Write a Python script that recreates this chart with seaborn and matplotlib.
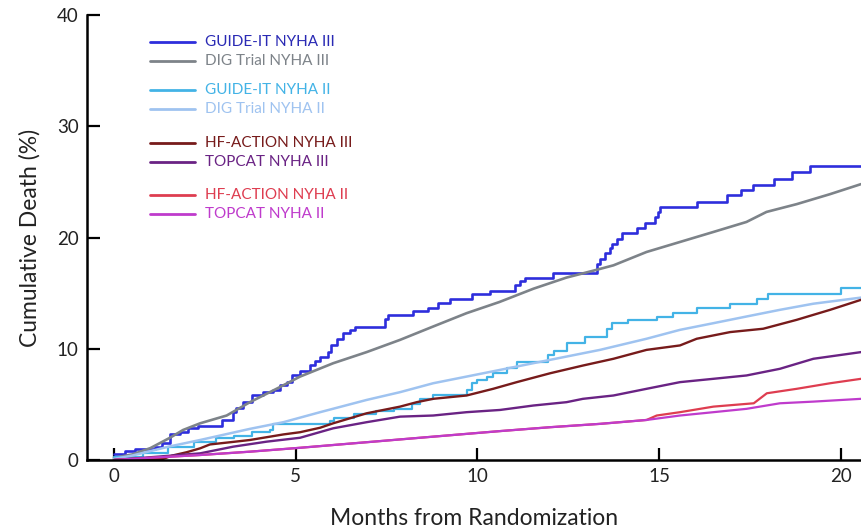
import numpy as np
import pandas as pd
import matplotlib
matplotlib.use("Agg")
import matplotlib.pyplot as plt
import seaborn as sns

# ---- series (months from randomization, cumulative death %) ----
GUIDE_IT_III_MONTHS = [0, 0.3, 0.58, 1.13, 1.31, 1.54, 1.82, 2.04, 2.31, 2.96, 3.28, 3.37, 3.55, 3.79, 4.1,
                       4.38, 4.57, 4.75, 4.89, 5.12, 5.4, 5.53, 5.67, 5.9, 5.96, 6.13, 6.3, 6.5, 6.63, 7.45,
                       7.54, 8.23, 8.64, 8.9, 9.24, 9.84, 10.34, 11.03, 11.17, 11.3, 12.08, 13.28, 13.37, 13.5, 13.65,
                       13.7, 13.83, 13.97, 14.38, 14.6, 14.88, 14.97, 15.02, 16.05, 16.86, 17.24, 17.57, 18.16, 18.65, 19.16,
                       20.55]
GUIDE_IT_III_DEATH = [0.5, 0.8, 1.0, 1.2, 1.55, 2.3, 2.55, 2.9, 3.1, 3.6, 4.3, 4.7, 5.2, 5.8, 6.1,
                      6.3, 6.7, 7.0, 7.6, 8.0, 8.5, 8.9, 9.3, 9.7, 10.3, 10.9, 11.4, 11.7, 12.0, 12.7,
                      13.0, 13.4, 13.7, 14.1, 14.5, 14.9, 15.2, 15.7, 16.1, 16.4, 16.8, 17.6, 18.1, 18.6, 19.1,
                      19.4, 19.9, 20.4, 20.9, 21.3, 21.8, 22.3, 22.7, 23.2, 23.8, 24.3, 24.75, 25.3, 25.9, 26.4,
                      26.4]

DIG_III_MONTHS = [0, 0.5, 1.0, 1.54, 1.9, 2.37, 3.1, 3.74, 4.47, 5.12, 6.03, 6.95, 7.87, 8.78, 9.7,
                  10.6, 11.54, 12.45, 13.28, 13.74, 14.65, 15.57, 16.49, 17.4, 17.95, 18.78, 19.7, 20.55]
DIG_III_DEATH = [0.2, 0.5, 1.07, 2.0, 2.7, 3.3, 4.0, 5.2, 6.4, 7.5, 8.7, 9.7, 10.8, 12.0, 13.2,
                 14.2, 15.4, 16.4, 17.1, 17.5, 18.7, 19.6, 20.5, 21.4, 22.3, 23.0, 23.9, 24.8]

GUIDE_IT_II_MONTHS = [0, 0.8, 1.5, 2.2, 2.8, 3.3, 3.8, 4.29, 4.38, 5.94, 6.04, 6.6, 7.2, 7.7, 8.2,
                      8.42, 8.78, 9.7, 9.84, 9.98, 10.25, 10.43, 10.8, 11.08, 11.95, 12.1, 12.45, 12.96, 13.55, 13.69,
                      14.15, 14.93, 15.39, 16.03, 16.95, 17.68, 18.0, 20.0, 20.55]
GUIDE_IT_II_DEATH = [0.3, 0.6, 1.2, 1.6, 2.0, 2.2, 2.5, 2.7, 3.2, 3.5, 3.8, 4.1, 4.4, 4.6, 5.0,
                     5.5, 5.8, 6.3, 6.9, 7.2, 7.5, 7.8, 8.3, 8.8, 9.4, 9.8, 10.5, 11.1, 11.8, 12.3,
                     12.6, 12.9, 13.2, 13.7, 14.05, 14.5, 14.95, 15.5, 15.5]

DIG_II_MONTHS = [0, 0.5, 1.0, 1.5, 2.37, 3.74, 4.66, 5.67, 6.95, 7.87, 8.78, 9.7, 10.62, 11.53, 12.45,
                 13.37, 14.65, 15.57, 16.49, 17.4, 18.32, 19.24, 20.55]
DIG_II_DEATH = [0.1, 0.4, 0.8, 1.2, 1.8, 2.8, 3.4, 4.3, 5.4, 6.1, 6.9, 7.5, 8.1, 8.7, 9.3,
                9.9, 10.9, 11.7, 12.3, 12.9, 13.5, 14.05, 14.6]

HF_ACTION_III_MONTHS = [0, 0.8, 1.35, 1.6, 2.0, 2.37, 2.64, 3.2, 3.74, 4.66, 5.12, 5.67, 6.03, 6.95, 7.87,
                        8.33, 8.78, 9.7, 10.43, 11.08, 12.0, 12.91, 13.74, 14.65, 15.57, 16.03, 16.95, 17.86, 18.78, 19.7,
                        20.55]
HF_ACTION_III_DEATH = [0.0, 0.05, 0.1, 0.4, 0.7, 1.05, 1.4, 1.6, 1.8, 2.3, 2.5, 2.9, 3.3, 4.2, 4.8,
                       5.2, 5.5, 5.8, 6.4, 7.0, 7.8, 8.5, 9.1, 9.9, 10.3, 10.9, 11.5, 11.8, 12.6, 13.5,
                       14.4]

TOPCAT_III_MONTHS = [0, 1.0, 2.37, 3.28, 4.2, 5.12, 6.03, 6.95, 7.87, 8.78, 9.7, 10.62, 11.54, 12.45, 12.9,
                     13.74, 14.65, 15.57, 16.49, 17.4, 18.32, 19.24, 20.55]
TOPCAT_III_DEATH = [0.0, 0.25, 0.6, 1.2, 1.65, 2.0, 2.85, 3.4, 3.9, 4.0, 4.3, 4.5, 4.9, 5.2, 5.5,
                    5.8, 6.4, 7.0, 7.3, 7.6, 8.2, 9.1, 9.7]

HF_ACTION_II_MONTHS = [0, 1.0, 2.37, 3.74, 5.12, 6.95, 8.78, 10.62, 12.0, 13.37, 14.65, 14.93, 15.57, 16.49, 17.6,
                       17.96, 18.78, 19.7, 20.55]
HF_ACTION_II_DEATH = [0.0, 0.2, 0.45, 0.75, 1.1, 1.6, 2.1, 2.6, 2.95, 3.25, 3.6, 4.0, 4.3, 4.8, 5.1,
                      6.0, 6.4, 6.9, 7.3]

TOPCAT_II_MONTHS = [0, 1.0, 2.37, 3.74, 5.12, 6.95, 8.78, 10.62, 12.0, 13.37, 14.65, 15.57, 16.49, 17.4, 18.32,
                    19.24, 20.55]
TOPCAT_II_DEATH = [0.0, 0.2, 0.45, 0.75, 1.1, 1.6, 2.1, 2.6, 2.95, 3.25, 3.6, 4.0, 4.3, 4.6, 5.1,
                   5.25, 5.5]

X_TICKS = [0, 5, 10, 15, 20]
Y_TICKS = [0, 10, 20, 30, 40]

# label, months, values, colour, stepped (KM step) or dense curve, line width
SERIES = [
    ("GUIDE-IT NYHA III", GUIDE_IT_III_MONTHS, GUIDE_IT_III_DEATH, "#2e2edc", True, 1.9),
    ("DIG Trial NYHA III", DIG_III_MONTHS, DIG_III_DEATH, "#7d8389", False, 1.9),
    ("GUIDE-IT NYHA II", GUIDE_IT_II_MONTHS, GUIDE_IT_II_DEATH, "#43b3e6", True, 1.6),
    ("DIG Trial NYHA II", DIG_II_MONTHS, DIG_II_DEATH, "#9fc3f0", False, 1.8),
    ("HF-ACTION NYHA III", HF_ACTION_III_MONTHS, HF_ACTION_III_DEATH, "#771b1b", False, 1.7),
    ("TOPCAT NYHA III", TOPCAT_III_MONTHS, TOPCAT_III_DEATH, "#6a2384", False, 1.7),
    ("HF-ACTION NYHA II", HF_ACTION_II_MONTHS, HF_ACTION_II_DEATH, "#de3d50", False, 1.6),
    ("TOPCAT NYHA II", TOPCAT_II_MONTHS, TOPCAT_II_DEATH, "#bf3bcc", False, 1.6),
]
LEGEND_TEXT_COLORS = ["#2a2ab4", "#7d8389", "#43b3e6", "#9fc3f0",
                      "#771b1b", "#6a2384", "#de3d50", "#bf3bcc"]

sns.set_theme(style="ticks")
plt.rcParams["font.family"] = ["Lato", "DejaVu Sans"]

fig = plt.figure(figsize=(8.61, 5.29), dpi=100)
ax = fig.add_axes([0.1010, 0.1304, 0.899, 0.8412])

for label, months, values, color, stepped, lw in SERIES:
    df = pd.DataFrame({"month": months, "death": values})
    sns.lineplot(data=df, x="month", y="death", ax=ax, color=color, linewidth=lw,
                 drawstyle="steps-post" if stepped else "default",
                 estimator=None, sort=False)

ax.set_xlim(-0.743, 20.55)
ax.set_ylim(0, 40)
ax.set_xticks(X_TICKS)
ax.set_yticks(Y_TICKS)
ax.tick_params(axis="both", direction="in", length=9, width=1.6, color="black",
               labelsize=13.5, labelcolor="#222222")
ax.tick_params(axis="x", pad=6)
ax.tick_params(axis="y", pad=6)
for side in ("top", "right"):
    ax.spines[side].set_visible(False)
for side in ("left", "bottom"):
    ax.spines[side].set_linewidth(1.8)
    ax.spines[side].set_color("black")

ax.set_xlabel("Months from Randomization", fontsize=16.5, color="#222222", labelpad=16)
ax.set_ylabel("Cumulative Death (%)", fontsize=16.5, color="#222222", labelpad=12)

# grouped legend drawn in figure pixels (top-left corner)
W, H = 861, 529
legend_rows = [42, 61, 90, 109, 143, 162, 195, 214]
for (label, _m, _v, color, _s, _lw), tcolor, yp in zip(SERIES, LEGEND_TEXT_COLORS, legend_rows):
    fig.add_artist(plt.Line2D([150 / W, 195 / W], [1 - yp / H, 1 - yp / H],
                              color=color, linewidth=2.0, transform=fig.transFigure))
    fig.text(205 / W, 1 - yp / H, label, color=tcolor, fontsize=11,
             ha="left", va="center")

fig.savefig("out.png", dpi=100)
